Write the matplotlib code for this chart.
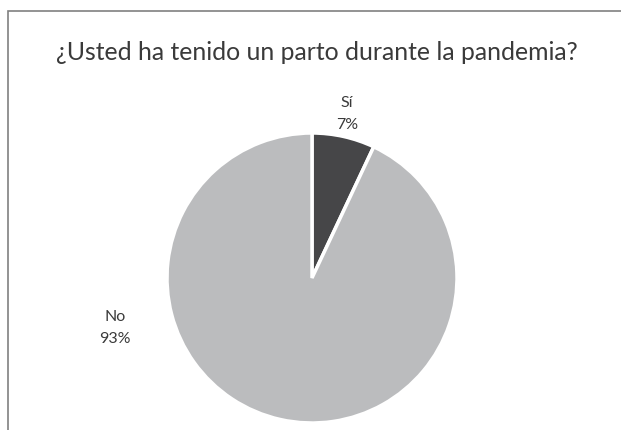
import matplotlib
matplotlib.use("Agg")
import matplotlib.pyplot as plt
from matplotlib.patches import Rectangle

# Survey answers
categories = ["Sí", "No"]
shares = [7, 93]
colors = ["#464648", "#bbbcbe"]
title = "¿Usted ha tenido un parto durante la pandemia?"

W, H = 621, 431
fig = plt.figure(figsize=(W / 100, H / 100), dpi=100)
fig.patch.set_facecolor("white")

# chart frame (cut off at right and bottom)
fig.patches.append(Rectangle((8 / W, -0.1), 1.2, 1 - 12 / H + 0.1,
                             transform=fig.transFigure, fill=False,
                             edgecolor="#808080", linewidth=1.2))

# pie centre (312, 279) px, radius 145 px
cx, cy, r = 312, 279, 145
ax = fig.add_axes([(cx - r) / W, (H - cy - r) / H, 2 * r / W, 2 * r / H])
ax.pie(shares, colors=colors, startangle=90, counterclock=False,
       wedgeprops=dict(edgecolor="white", linewidth=2.5))
ax.set_xlim(-1, 1)
ax.set_ylim(-1, 1)
ax.set_aspect("equal")
ax.axis("off")

# data labels
label_pos = [(347, 114), (115, 328)]
for cat, val, (px, py) in zip(categories, shares, label_pos):
    fig.text(px / W, 1 - py / H, f"{cat}\n{val}%", ha="center", va="center",
             fontsize=11.5, color="#3a3a3a", family="Lato", linespacing=1.7)

fig.text((cx + 5) / W, 1 - 52 / H, title, ha="center", va="center",
         fontsize=17.8, color="#3a3a3a", family="Lato")

fig.savefig("out.png", dpi=100)
